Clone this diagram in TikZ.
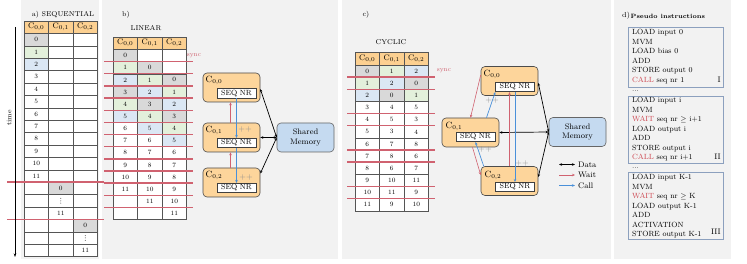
\documentclass[tikz,border=0pt]{standalone}
\usetikzlibrary{arrows.meta,calc}
\definecolor{panelbg}{RGB}{242,242,242}
\definecolor{hdr}{RGB}{252,208,145}
\definecolor{corefill}{RGB}{253,213,155}
\definecolor{cg}{RGB}{217,217,217}
\definecolor{cn}{RGB}{227,240,219}
\definecolor{cb}{RGB}{219,231,244}
\definecolor{cw}{RGB}{255,255,255}
\definecolor{tabline}{RGB}{85,85,85}
\definecolor{syncred}{RGB}{208,98,112}
\definecolor{callblue}{RGB}{74,144,217}
\definecolor{memfill}{RGB}{197,218,240}
\definecolor{dbox}{RGB}{140,160,190}
\definecolor{instred}{RGB}{205,70,80}
\tikzset{
  cella/.style={draw=tabline, line width=0.5pt, minimum width=24.5pt, minimum height=12.4pt, inner sep=0pt, outer sep=0pt, anchor=north west, font=\fontsize{6.5}{7}\selectfont},
  cellb/.style={cella, minimum height=12.15pt},
  hdrcell/.style={cella, fill=hdr, font=\fontsize{8.5}{9}\selectfont},
  syncline/.style={draw=syncred, line width=1.4pt, line cap=butt},
  synclab/.style={text=syncred, font=\fontsize{6.5}{7}\selectfont, inner sep=0pt},
  ttl/.style={font=\fontsize{7}{8}\selectfont, inner sep=0pt},
  core/.style={draw=black!70, fill=corefill, rounded corners=4pt, minimum width=57pt, minimum height=29pt, line width=0.6pt, inner sep=0pt},
  seqbox/.style={draw=black!75, fill=white, minimum width=39pt, minimum height=9.5pt, inner sep=0pt, line width=0.5pt, font=\fontsize{7.5}{8}\selectfont},
  clab/.style={inner sep=0pt, font=\fontsize{9}{10}\selectfont},
  mem/.style={draw=black!60, fill=memfill, rounded corners=4pt, minimum width=57pt, minimum height=29pt, line width=0.6pt, align=center, inner sep=0pt, font=\fontsize{8}{9.5}\selectfont},
  data/.style={{Stealth[length=3pt,width=2.5pt]}-{Stealth[length=3pt,width=2.5pt]}, line width=0.7pt, black},
  wait/.style={-{Stealth[length=3pt,width=2.5pt]}, line width=0.6pt, syncred},
  call/.style={-{Stealth[length=3pt,width=2.5pt]}, line width=0.7pt, callblue},
  pp/.style={text=black!45, inner sep=0pt, font=\fontsize{8}{9}\selectfont},
  inst/.style={anchor=base west, inner sep=0pt, font=\fontsize{7.5}{8}\selectfont},
  roman/.style={anchor=base east, inner sep=0pt, font=\fontsize{8}{9}\selectfont},
  instbox/.style={draw=dbox, line width=0.8pt, anchor=north west, minimum width=95pt, inner sep=0pt},
  legtxt/.style={anchor=west, inner sep=0pt, font=\fontsize{8}{9}\selectfont},
  vdot/.style={fill=black!70, radius=0.5pt}
}
\begin{document}
\begin{tikzpicture}[x=1pt,y=-1pt]
\useasboundingbox (0,0) rectangle (747,264);
% panels
\fill[panelbg] (21,0) rectangle (99,259);
\fill[panelbg] (102,0) rectangle (338,259);
\fill[panelbg] (342,0) rectangle (611,259);
\fill[panelbg] (614,0) rectangle (731,259);

% ---------------- a) SEQUENTIAL ----------------
\node[ttl] (ta) at (63,15) {a) SEQUENTIAL};
\node[hdrcell] (ah1) at (24,21) {$\mathrm{C}_{0,0}$};
\node[hdrcell] (ah2) at (48.5,21) {$\mathrm{C}_{0,1}$};
\node[hdrcell] (ah3) at (73,21) {$\mathrm{C}_{0,2}$};
\foreach \r/\fa/\ta/\fb/\tb/\fc/\tc in {
 0/cg/0/cw/{}/cw/{}, 1/cn/1/cw/{}/cw/{}, 2/cb/2/cw/{}/cw/{}, 3/cw/3/cw/{}/cw/{},
 4/cw/4/cw/{}/cw/{}, 5/cw/5/cw/{}/cw/{}, 6/cw/6/cw/{}/cw/{}, 7/cw/7/cw/{}/cw/{},
 8/cw/8/cw/{}/cw/{}, 9/cw/9/cw/{}/cw/{}, 10/cw/10/cw/{}/cw/{}, 11/cw/11/cw/{}/cw/{},
 12/cw/{}/cg/0/cw/{}, 13/cw/{}/cw/{}/cw/{}, 14/cw/{}/cw/11/cw/{},
 15/cw/{}/cw/{}/cg/0, 16/cw/{}/cw/{}/cw/{}, 17/cw/{}/cw/{}/cw/11}{
  \node[cella, fill=\fa] (a-\r-1) at (24, 33.4+12.4*\r) {\ta};
  \node[cella, fill=\fb] (a-\r-2) at (48.5, 33.4+12.4*\r) {\tb};
  \node[cella, fill=\fc] (a-\r-3) at (73, 33.4+12.4*\r) {\tc};
}
% vertical ellipses
\foreach \d in {-2.4,0,2.4}{
  \fill[vdot] ([yshift=\d pt]a-13-2.center) circle[];
  \fill[vdot] ([yshift=\d pt]a-16-3.center) circle[];
}
\draw[syncline] (7,182.2) -- (104,182.2);
\draw[syncline] (7,219.4) -- (104,219.4);
\coordinate (t0) at (15,27);
\coordinate (t1) at (15,257);
\draw[-{Stealth[length=3.5pt,width=2.5pt]}, line width=0.7pt] (t0) -- (t1);
\node[ttl, rotate=90] (tl) at (9,118) {time};

% ---------------- b) LINEAR ----------------
\node[ttl] (tb) at (126,15) {b)};
\node[ttl] (tbl) at (146,28) {LINEAR};
\node[hdrcell, minimum height=12.5pt] (bh1) at (113,37) {$\mathrm{C}_{0,0}$};
\node[hdrcell, minimum height=12.5pt] (bh2) at (137.5,37) {$\mathrm{C}_{0,1}$};
\node[hdrcell, minimum height=12.5pt] (bh3) at (162,37) {$\mathrm{C}_{0,2}$};
\foreach \r/\fa/\ta/\fb/\tb/\fc/\tc in {
 0/cg/0/cw/{}/cw/{}, 1/cn/1/cg/0/cw/{}, 2/cb/2/cn/1/cg/0, 3/cg/3/cb/2/cn/1,
 4/cn/4/cg/3/cb/2, 5/cb/5/cn/4/cg/3, 6/cw/6/cb/5/cn/4, 7/cw/7/cw/6/cb/5,
 8/cw/8/cw/7/cw/6, 9/cw/9/cw/8/cw/7, 10/cw/10/cw/9/cw/8, 11/cw/11/cw/10/cw/9,
 12/cw/{}/cw/11/cw/10, 13/cw/{}/cw/{}/cw/11}{
  \node[cellb, fill=\fa] (b-\r-1) at (113, 49.5+12.15*\r) {\ta};
  \node[cellb, fill=\fb] (b-\r-2) at (137.5, 49.5+12.15*\r) {\tb};
  \node[cellb, fill=\fc] (b-\r-3) at (162, 49.5+12.15*\r) {\tc};
}
\foreach \k in {1,...,13}{
  \draw[syncline] (104,49.5+12.15*\k) -- (193,49.5+12.15*\k);
}
\node[synclab] (bsync) at (194,56) {sync};

\node[core] (b0) at (231.5,87.5) {};
\node[seqbox] (bs0) at (236.5,93.5) {SEQ NR};
\node[clab] (bl0) at (214,81) {$\mathrm{C}_{0,0}$};
\node[core] (b1) at (231.5,137.5) {};
\node[seqbox] (bs1) at (236.5,143) {SEQ NR};
\node[clab] (bl1) at (214,131) {$\mathrm{C}_{0,1}$};
\node[core] (b2) at (231.5,182.5) {};
\node[seqbox] (bs2) at (236.5,188) {SEQ NR};
\node[clab] (bl2) at (214,176) {$\mathrm{C}_{0,2}$};
\node[mem] (bm) at (305.5,137.5) {Shared\\Memory};
\draw[data] (bm.west) -- ([yshift=-1.5pt]b0.east);
\draw[data] (bm.west) -- (b1.east);
\draw[data] (bm.west) -- ([yshift=9pt]b2.east);
\draw[wait] ([xshift=-1pt]b1.north) -- ([xshift=-1pt]b0.south);
\draw[wait] ([xshift=-1pt]b2.north) -- ([xshift=-1pt]b1.south);
\draw[call] (bs0.south) -- (bs1.north);
\draw[call] (bs1.south) -- (bs2.north);
\node[pp] (bp1) at (245,130) {++};
\node[pp] (bp2) at (246,178) {++};

% ---------------- c) CYCLIC ----------------
\node[ttl] (tc) at (366,15) {c)};
\node[ttl] (tcl) at (391,42) {CYCLIC};
\node[hdrcell, minimum height=13pt] (ch1) at (355,52) {$\mathrm{C}_{0,0}$};
\node[hdrcell, minimum height=13pt] (ch2) at (379.5,52) {$\mathrm{C}_{0,1}$};
\node[hdrcell, minimum height=13pt] (ch3) at (404,52) {$\mathrm{C}_{0,2}$};
\foreach \r/\fa/\ta/\fb/\tb/\fc/\tc in {
 0/cg/0/cn/1/cb/2, 1/cn/1/cb/2/cg/0, 2/cb/2/cg/0/cn/1,
 3/cw/3/cw/4/cw/5, 4/cw/4/cw/5/cw/3, 5/cw/5/cw/3/cw/4,
 6/cw/6/cw/7/cw/8, 7/cw/7/cw/8/cw/6, 8/cw/8/cw/6/cw/7,
 9/cw/9/cw/10/cw/11, 10/cw/10/cw/11/cw/9, 11/cw/11/cw/9/cw/10}{
  \node[cellb, fill=\fa] (c-\r-1) at (355, 65+12.15*\r) {\ta};
  \node[cellb, fill=\fb] (c-\r-2) at (379.5, 65+12.15*\r) {\tb};
  \node[cellb, fill=\fc] (c-\r-3) at (404, 65+12.15*\r) {\tc};
}
\foreach \k in {1,2,4,5,7,8,10,11}{
  \draw[syncline] (347,65+12.15*\k) -- (435,65+12.15*\k);
}
\node[synclab] (csync) at (444,71) {sync};

\node[core] (c0) at (509.5,81) {};
\node[seqbox] (cs0) at (515,87) {SEQ NR};
\node[clab] (cl0) at (492,75) {$\mathrm{C}_{0,0}$};
\node[core] (c1) at (470.5,132.5) {};
\node[seqbox] (cs1) at (475.5,137) {SEQ NR};
\node[clab] (cl1) at (454,127) {$\mathrm{C}_{0,1}$};
\node[core] (c2) at (509.5,181) {};
\node[seqbox] (cs2) at (515,187) {SEQ NR};
\node[clab] (cl2) at (493,176) {$\mathrm{C}_{0,2}$};
\node[mem] (cm) at (577.5,132) {Shared\\Memory};
\draw[data] (cm.west) -- ([yshift=-2pt]c0.east);
\draw[data] (cm.west) -- (c1.east);
\draw[data] (cm.west) -- ([yshift=4pt]c2.east);
\draw[wait] ([yshift=6pt]c0.west) -- (c1.north);
\draw[wait] ([xshift=2pt]c1.south) -- ([yshift=6pt]c2.west);
\draw[wait] (c2.north) -- (c2.north |- cs0.south);
\draw[call] ([xshift=16pt]c1.north) -- (cs0.south west);
\draw[call] ([xshift=3pt]c2.north west) -- (cs1.south);
\draw[call] (cs0.south) -- (cs2.north);
\node[pp] (cp1) at (492,101) {++};
\node[pp] (cp2) at (485,150) {++};
\node[pp] (cp3) at (522,164) {++};
% legend
\coordinate (lg1a) at (559,164.5); \coordinate (lg1b) at (575,164.5);
\coordinate (lg2a) at (559,175);   \coordinate (lg2b) at (575,175);
\coordinate (lg3a) at (559,185.5); \coordinate (lg3b) at (575,185.5);
\draw[data] (lg1a) -- (lg1b);
\draw[wait] (lg2a) -- (lg2b);
\draw[call] (lg3a) -- (lg3b);
\node[legtxt] (lgt1) at (578,164.5) {Data};
\node[legtxt] (lgt2) at (578,175) {Wait};
\node[legtxt] (lgt3) at (578,185.5) {Call};

% ---------------- d) Pseudo instructions ----------------
\node[anchor=west, inner sep=0pt, font=\fontsize{7.2}{8}\selectfont] (dl) at (622,15.5) {d)};
\node[anchor=west, inner sep=0pt, font=\fontsize{6.2}{7}\selectfont\bfseries] (dt) at (630.5,16.5) {Pseudo instructions};
\node[instbox, minimum height=60pt] (box1) at (628,27) {};
\node[instbox, minimum height=67pt] (box2) at (628,96) {};
\node[instbox, minimum height=67pt] (box3) at (628,172) {};
\node[inst] (i11) at (632,35) {LOAD input 0};
\node[inst] (i12) at (632,44.5) {MVM};
\node[inst] (i13) at (632,54) {LOAD bias 0};
\node[inst] (i14) at (632,63.5) {ADD};
\node[inst] (i15) at (632,73) {STORE output 0};
\node[inst] (i16) at (632,82.5) {\textcolor{instred}{CALL} seq nr 1};
\node[roman] (r1) at (721,82.5) {I};
\node[inst] (e1) at (632,92) {...};
\node[inst] (i21) at (632,102.6) {LOAD input i};
\node[inst] (i22) at (632,112.1) {MVM};
\node[inst] (i23) at (632,121.6) {\textcolor{instred}{WAIT} seq nr $\geq$ i+1};
\node[inst] (i24) at (632,131.1) {LOAD output i};
\node[inst] (i25) at (632,140.6) {ADD};
\node[inst] (i26) at (632,150.1) {STORE output i};
\node[inst] (i27) at (632,159.6) {\textcolor{instred}{CALL} seq nr i+1};
\node[roman] (r2) at (721,159.6) {II};
\node[inst] (e2) at (632,169) {...};
\node[inst] (i31) at (632,179.6) {LOAD input K-1};
\node[inst] (i32) at (632,189.1) {MVM};
\node[inst] (i33) at (632,198.6) {\textcolor{instred}{WAIT} seq nr $\geq$ K};
\node[inst] (i34) at (632,208.1) {LOAD output K-1};
\node[inst] (i35) at (632,217.6) {ADD};
\node[inst] (i36) at (632,227.1) {ACTIVATION};
\node[inst] (i37) at (632,236.6) {STORE output K-1};
\node[roman] (r3) at (721,234.5) {III};
\end{tikzpicture}
\end{document}
